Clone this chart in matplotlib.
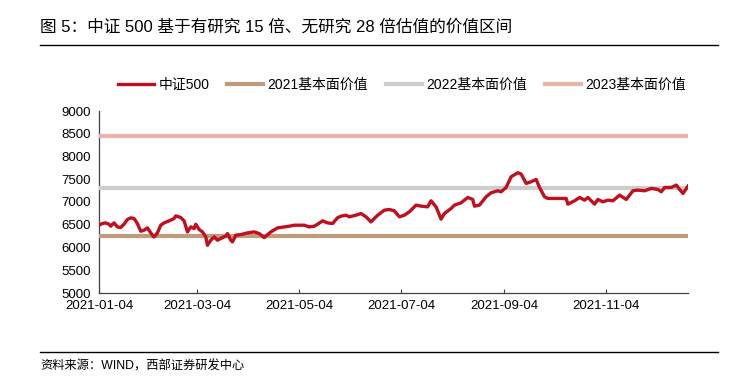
import matplotlib
matplotlib.use("Agg")
import matplotlib.pyplot as plt
import matplotlib.dates as mdates
import pandas as pd

plt.rcParams['font.family'] = ['Liberation Sans', 'Noto Sans CJK SC', 'DejaVu Sans']

dates = ["2021-01-04","2021-01-06","2021-01-08","2021-01-10","2021-01-11","2021-01-13","2021-01-15",
         "2021-01-17","2021-01-19","2021-01-21","2021-01-23","2021-01-25","2021-01-27","2021-01-29",
         "2021-01-31","2021-02-02","2021-02-04","2021-02-06","2021-02-08","2021-02-10","2021-02-12",
         "2021-02-15","2021-02-18","2021-02-19","2021-02-22","2021-02-24","2021-02-26","2021-02-28",
         "2021-03-02","2021-03-03","2021-03-05","2021-03-07","2021-03-09","2021-03-10","2021-03-12",
         "2021-03-14","2021-03-16","2021-03-19","2021-03-21","2021-03-22","2021-03-24","2021-03-25",
         "2021-03-27","2021-03-30","2021-04-03","2021-04-07","2021-04-10","2021-04-13","2021-04-17",
         "2021-04-21","2021-04-25","2021-04-28","2021-05-01","2021-05-07","2021-05-10","2021-05-13",
         "2021-05-15","2021-05-18","2021-05-21","2021-05-24","2021-05-27","2021-05-29","2021-06-01",
         "2021-06-03","2021-06-07","2021-06-10","2021-06-13","2021-06-16","2021-06-20","2021-06-24",
         "2021-06-27","2021-06-30","2021-07-03","2021-07-06","2021-07-09","2021-07-13","2021-07-16",
         "2021-07-20","2021-07-22","2021-07-25","2021-07-28","2021-07-30","2021-08-03","2021-08-05",
         "2021-08-09","2021-08-13","2021-08-16","2021-08-17","2021-08-20","2021-08-24","2021-08-27",
         "2021-08-31","2021-09-02","2021-09-05","2021-09-08","2021-09-12","2021-09-14","2021-09-17",
         "2021-09-20","2021-09-23","2021-09-25","2021-09-28","2021-09-30","2021-10-11","2021-10-12",
         "2021-10-16","2021-10-19","2021-10-22","2021-10-24","2021-10-28","2021-10-30","2021-11-02",
         "2021-11-05","2021-11-08","2021-11-12","2021-11-16","2021-11-20","2021-11-23","2021-11-27",
         "2021-12-01","2021-12-05","2021-12-07","2021-12-09","2021-12-13","2021-12-16","2021-12-18",
         "2021-12-20","2021-12-23"]
csi500 = [6490,6527,6541,6512,6468,6541,6453,
          6439,6512,6615,6652,6637,6527,6358,
          6380,6431,6321,6233,6321,6490,6541,
          6585,6637,6695,6659,6585,6343,6453,
          6417,6512,6395,6343,6233,6050,6160,
          6233,6160,6218,6248,6306,6160,6123,
          6270,6284,6321,6343,6306,6218,6343,
          6431,6453,6468,6490,6490,6453,6468,
          6512,6585,6541,6527,6655,6688,6710,
          6674,6710,6747,6674,6564,6710,6820,
          6835,6806,6674,6710,6784,6931,6909,
          6894,7026,6894,6623,6747,6857,6931,
          6982,7100,7056,6909,6931,7115,7203,
          7247,7225,7320,7555,7643,7614,7408,
          7445,7496,7320,7115,7078,7078,6953,
          7026,7100,7041,7100,6953,7056,7004,
          7041,7026,7151,7056,7247,7261,7247,
          7298,7276,7225,7320,7320,7371,7276,
          7188,7349]
value_2021 = 6250
value_2022 = 7300
value_2023 = 8450

series_labels = ["中证500", "2021基本面价值", "2022基本面价值", "2023基本面价值"]
colors = ["#C00F1E", "#BE9C7D", "#CDCDCD", "#E9B3A7"]

x = pd.to_datetime(dates)

fig = plt.figure(figsize=(7.39, 3.88), dpi=100)
ax = fig.add_axes([99/739, 1-293/388, (688-99)/739, (293-111)/388])

ax.plot(x, csi500, color=colors[0], lw=2.4, label=series_labels[0], zorder=5)
ax.axhline(value_2021, color=colors[1], lw=3.0, label=series_labels[1], zorder=3)
ax.axhline(value_2022, color=colors[2], lw=3.0, label=series_labels[2], zorder=3)
ax.axhline(value_2023, color=colors[3], lw=3.0, label=series_labels[3], zorder=3)

ax.set_ylim(5000, 9000)
ax.set_yticks(range(5000, 9001, 500))
ax.set_xlim(x[0], x[-1])
ticks = pd.to_datetime(["2021-01-04","2021-03-04","2021-05-04","2021-07-04","2021-09-04","2021-11-04"])
ax.set_xticks(ticks)
ax.xaxis.set_major_formatter(mdates.DateFormatter("%Y-%m-%d"))

for s in ["top", "right"]:
    ax.spines[s].set_visible(False)
for s in ["left", "bottom"]:
    ax.spines[s].set_color("#404040")
    ax.spines[s].set_linewidth(0.9)
ax.tick_params(axis="y", length=0, labelsize=9.5, pad=6)
ax.tick_params(axis="x", direction="in", length=3, labelsize=9.5, pad=5, color="#404040")

leg = fig.legend(loc="center", bbox_to_anchor=(402/739, 1-85/388), ncol=4, frameon=False,
                 fontsize=10, handlelength=2.6, columnspacing=1.3, handletextpad=0.3)

fig.text(40/739, 1-27/388, "图 5：中证 500 基于有研究 15 倍、无研究 28 倍估值的价值区间",
         fontsize=12, va="center", ha="left")
fig.add_artist(plt.Line2D([40/739, 718/739], [1-45/388, 1-45/388], color="black", lw=1.0))
fig.add_artist(plt.Line2D([40/739, 718/739], [1-352/388, 1-352/388], color="black", lw=1.0))
fig.text(40/739, 1-366/388, "资料来源：WIND，西部证券研发中心", fontsize=8.8, va="center", ha="left")

fig.savefig("out.png", dpi=100)
